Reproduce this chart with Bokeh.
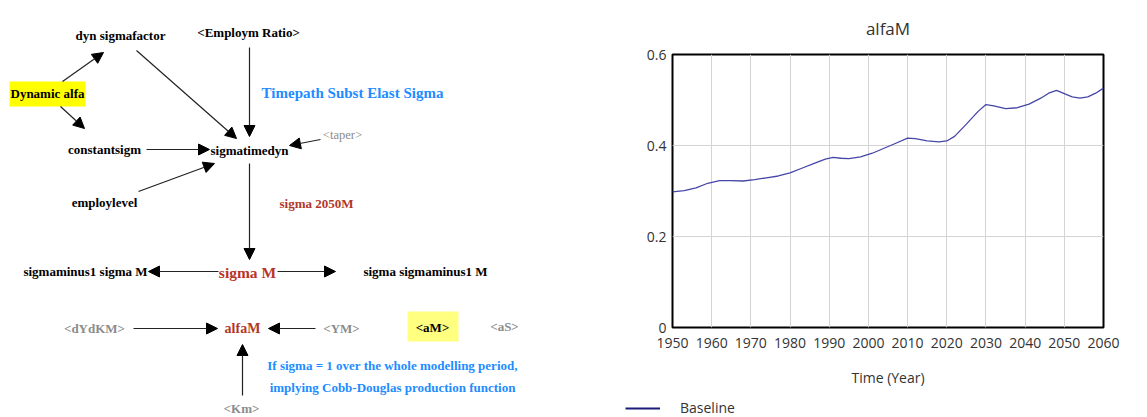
from bokeh.plotting import figure
from bokeh.models import (Range1d, ColumnDataSource, Arrow, NormalHead, FixedTicker,
                          Legend, LegendItem)
from bokeh.layouts import row, column
from bokeh.core.properties import value
from bokeh.embed import file_html
from bokeh.resources import INLINE

# ---------------- diagram data ----------------
node_text = ["dyn sigmafactor", "<Employm Ratio>", "Dynamic alfa", "Timepath Subst Elast Sigma",
             "<taper>", "constantsigm", "sigmatimedyn", "employlevel", "sigma 2050M",
             "sigmaminus1 sigma M", "sigma M", "sigma sigmaminus1 M", "<dYdKM>", "alfaM",
             "<YM>", "<aM>", "<aS>", "If sigma = 1 over the whole modelling period,",
             "implying Cobb-Douglas production function", "<Km>"]
node_x = [120, 248, 47, 352, 342, 104, 249, 104, 316, 85, 247, 425, 94, 242, 341, 432, 504, 392, 392, 241]
node_y = [35, 32, 93, 92, 134, 149, 150, 202, 203, 271, 272, 271, 328, 328, 328, 327, 326, 365, 387, 408]
node_color = ["#000000", "#000000", "#000000", "#1e8cff", "#8c8c8c", "#000000", "#000000", "#000000",
              "#b0382a", "#000000", "#b83426", "#000000", "#8c8c8c", "#b0382a", "#8c8c8c", "#000000",
              "#8c8c8c", "#1e8cff", "#1e8cff", "#8c8c8c"]
node_size = ["13px", "13px", "13px", "15px", "12.5px", "13px", "13px", "13px", "13px", "13px", "15.5px",
             "13px", "13px", "14px", "13px", "13px", "13px", "13px", "13px", "13px"]
node_style = ["bold", "bold", "bold", "bold", "normal", "bold", "bold", "bold", "bold", "bold", "bold",
              "bold", "bold", "bold", "bold", "bold", "bold", "bold", "bold", "bold"]

# highlight boxes (left, right, top, bottom) and colours
box_left = [9, 407]
box_right = [85, 458]
box_top = [81, 311]
box_bottom = [106, 341]
box_color = ["#ffff00", "#ffff80"]

# causal links (start -> end)
link_x0 = [62, 60, 136, 249, 320, 146, 138, 249, 218, 277, 133, 315, 242]
link_y0 = [81, 106, 50, 47, 139, 149, 191, 163, 271, 271, 328, 328, 395]
link_x1 = [103, 84, 236, 249, 289, 209, 214, 249, 148, 335, 217, 268, 242]
link_y1 = [52, 128, 138, 136, 145, 149, 163, 259, 271, 271, 328, 328, 344]

# ---------------- chart data ----------------
years = [1950, 1953, 1956, 1959, 1962, 1965, 1968, 1971, 1974, 1977, 1980, 1983, 1986, 1989,
         1991, 1993, 1995, 1998, 2001, 2004, 2007, 2010, 2012, 2015, 2018, 2020, 2022, 2025,
         2028, 2030, 2032, 2035, 2038, 2041, 2044, 2046, 2048, 2050, 2052, 2054, 2056, 2058, 2060]
alfaM = [0.298, 0.301, 0.307, 0.317, 0.323, 0.323, 0.322, 0.325, 0.329, 0.333, 0.340, 0.350,
         0.360, 0.370, 0.374, 0.372, 0.371, 0.375, 0.383, 0.394, 0.405, 0.416, 0.415, 0.410,
         0.408, 0.410, 0.420, 0.447, 0.475, 0.490, 0.487, 0.481, 0.483, 0.491, 0.504, 0.515,
         0.521, 0.514, 0.507, 0.504, 0.507, 0.515, 0.526]
x_ticks = [1950, 1960, 1970, 1980, 1990, 2000, 2010, 2020, 2030, 2040, 2050, 2060]
y_ticks = [0, 0.2, 0.4, 0.6]
y_tick_labels = ["0", "0.2", "0.4", "0.6"]
series_name = "Baseline"

H = 417
LEG_H = 18

# ---------------- diagram figure ----------------
d = figure(width=600, height=H, x_range=Range1d(0, 600), y_range=Range1d(H, 0),
           output_backend="svg", toolbar_location=None, min_border=0)
d.frame_align = False
d.axis.visible = False
d.grid.visible = False
d.outline_line_color = None
d.background_fill_color = "white"

d.quad(left=box_left, right=box_right, top=box_top, bottom=box_bottom,
       fill_color=box_color, line_color=None)

link_src = ColumnDataSource(dict(x0=link_x0, y0=link_y0, x1=link_x1, y1=link_y1))
d.add_layout(Arrow(source=link_src, x_start="x0", y_start="y0", x_end="x1", y_end="y1",
                   line_color="#222222", line_width=1.2,
                   end=NormalHead(size=11, fill_color="black", line_color="black")))

node_src = ColumnDataSource(dict(x=node_x, y=node_y, text=node_text, color=node_color,
                                 size=node_size, style=node_style))
d.text(x="x", y="y", text="text", source=node_src, text_color="color",
       text_font_size="size", text_font_style="style", text_font=value("Liberation Serif"),
       text_align="center", text_baseline="middle")

# ---------------- line chart ----------------
p = figure(width=547, height=H - LEG_H, x_range=Range1d(1950, 2060), y_range=Range1d(0, 0.6),
           output_backend="svg", toolbar_location=None,
           min_border_left=72, min_border_right=44, min_border_top=52,
           min_border_bottom=90 - LEG_H)
p.frame_align = False
p.title.text = "alfaM"
p.title.align = "center"
p.title.text_font = "Open Sans"
p.title.text_font_size = "17px"
p.title.text_font_style = "normal"
p.title.text_color = "#333333"
p.title.standoff = 29

p.outline_line_color = "black"
p.outline_line_width = 2
p.outline_line_alpha = 1

p.xaxis.ticker = FixedTicker(ticks=x_ticks)
p.yaxis.ticker = FixedTicker(ticks=y_ticks)
p.yaxis.major_label_overrides = {t: s for t, s in zip(y_ticks, y_tick_labels)}
for ax in (p.xaxis, p.yaxis):
    ax.axis_line_color = None
    ax.major_tick_line_color = None
    ax.minor_tick_line_color = None
    ax.major_label_text_font = "Open Sans"
    ax.major_label_text_font_size = "14px"
    ax.major_label_text_color = "#333333"
p.xaxis.major_label_standoff = 4
p.yaxis.major_label_standoff = 0
p.xaxis.axis_label = "Time (Year)"
p.xaxis.axis_label_text_font = "Open Sans"
p.xaxis.axis_label_text_font_size = "14px"
p.xaxis.axis_label_text_font_style = "normal"
p.xaxis.axis_label_text_color = "#333333"
p.xaxis.axis_label_standoff = 17

p.grid.grid_line_color = "#d4d4d4"
p.grid.grid_line_width = 1

p.line(years, alfaM, line_color="#4646a6", line_width=1.3)

# ---------------- legend strip below the chart ----------------
# the key renderer holds the same series, but this strip's ranges keep it out of view,
# so only its legend swatch is seen
lf = figure(width=547, height=LEG_H, x_range=Range1d(0, 1), y_range=Range1d(0, 1),
            output_backend="svg", toolbar_location=None, min_border=0)
lf.frame_align = False
lf.axis.visible = False
lf.grid.visible = False
lf.outline_line_color = None
key = lf.line(years, alfaM, line_color="#1c1c7a", line_width=2)
legend = Legend(items=[LegendItem(label=series_name, renderers=[key])],
                location=(25, 0), orientation="horizontal",
                border_line_color=None, background_fill_alpha=0,
                label_text_font="Open Sans", label_text_font_size="14px",
                label_text_color="#333333", glyph_width=35, glyph_height=16,
                label_height=16, label_standoff=20, padding=0, margin=0)
lf.add_layout(legend)

layout = row(d, column(p, lf, spacing=0), spacing=0)
open("out.html", "w").write(file_html(layout, INLINE))
